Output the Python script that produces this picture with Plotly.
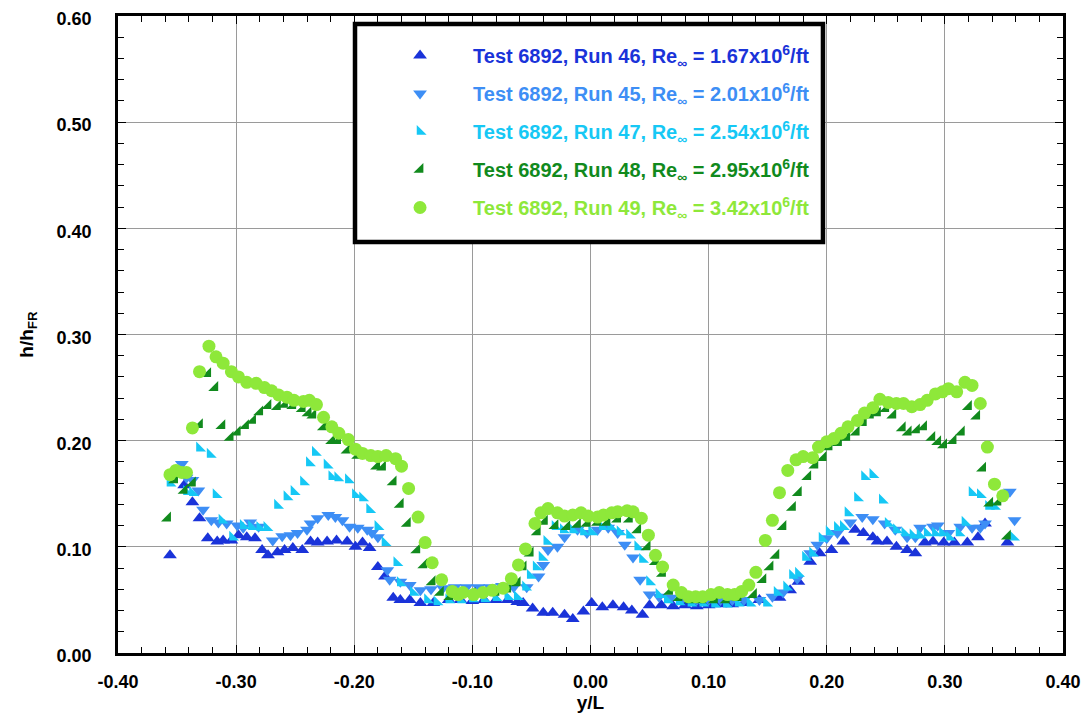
import plotly.graph_objects as go

# ---------------- data ----------------
run46_x = [-0.356, -0.344, -0.337, -0.331, -0.324, -0.316, -0.311, -0.304, -0.298, -0.291,
           -0.284, -0.278, -0.273, -0.265, -0.259, -0.252, -0.244, -0.237, -0.231, -0.223,
           -0.215, -0.206, -0.199, -0.193, -0.187, -0.180, -0.174, -0.167, -0.161, -0.153,
           -0.144, -0.133, -0.120, -0.110, -0.100, -0.090, -0.080, -0.070, -0.062, -0.057,
           -0.049, -0.040, -0.032, -0.022, -0.015, -0.006, 0.001, 0.010, 0.019, 0.028,
           0.035, 0.044, 0.050, 0.060, 0.070, 0.080, 0.090, 0.100, 0.110, 0.120,
           0.130, 0.143, 0.160, 0.169, 0.176, 0.186, 0.194, 0.204, 0.214, 0.224,
           0.231, 0.239, 0.243, 0.251, 0.259, 0.268, 0.275, 0.283, 0.290, 0.299,
           0.308, 0.319, 0.328, 0.334, 0.353]
run46_y = [0.092, 0.158, 0.142, 0.127, 0.108, 0.105, 0.106, 0.106, 0.111, 0.109,
           0.108, 0.097, 0.092, 0.095, 0.097, 0.099, 0.097, 0.105, 0.104, 0.105,
           0.106, 0.105, 0.100, 0.104, 0.099, 0.081, 0.072, 0.052, 0.050, 0.050,
           0.047, 0.047, 0.050, 0.050, 0.049, 0.050, 0.050, 0.050, 0.048, 0.047,
           0.042, 0.038, 0.038, 0.036, 0.032, 0.039, 0.047, 0.043, 0.045, 0.043,
           0.040, 0.036, 0.045, 0.045, 0.044, 0.045, 0.044, 0.045, 0.046, 0.046,
           0.047, 0.050, 0.052, 0.059, 0.067, 0.086, 0.094, 0.097, 0.105, 0.116,
           0.113, 0.109, 0.105, 0.105, 0.100, 0.097, 0.094, 0.104, 0.105, 0.104,
           0.104, 0.104, 0.109, 0.122, 0.104]

run45_x = [-0.346, -0.342, -0.337, -0.332, -0.328, -0.321, -0.315, -0.308, -0.299, -0.294,
           -0.288, -0.281, -0.269, -0.261, -0.254, -0.248, -0.240, -0.237, -0.231, -0.222,
           -0.216, -0.210, -0.204, -0.197, -0.189, -0.185, -0.180, -0.172, -0.170, -0.161,
           -0.153, -0.144, -0.135, -0.125, -0.115, -0.105, -0.095, -0.085, -0.075, -0.065,
           -0.054, -0.044, -0.040, -0.036, -0.028, -0.022, -0.011, -0.003, 0.006, 0.015,
           0.023, 0.029, 0.036, 0.042, 0.050, 0.058, 0.068, 0.078, 0.090, 0.100,
           0.110, 0.120, 0.130, 0.143, 0.154, 0.163, 0.175, 0.186, 0.192, 0.200,
           0.209, 0.220, 0.230, 0.239, 0.249, 0.258, 0.268, 0.275, 0.279, 0.290,
           0.294, 0.303, 0.313, 0.323, 0.330, 0.334, 0.355, 0.359]
run45_y = [0.178, 0.165, 0.163, 0.153, 0.135, 0.125, 0.123, 0.122, 0.120, 0.118,
           0.123, 0.119, 0.106, 0.110, 0.111, 0.113, 0.116, 0.122, 0.127, 0.130,
           0.128, 0.125, 0.119, 0.118, 0.116, 0.113, 0.109, 0.078, 0.069, 0.067,
           0.064, 0.059, 0.060, 0.061, 0.062, 0.062, 0.062, 0.062, 0.063, 0.062,
           0.062, 0.072, 0.083, 0.097, 0.100, 0.109, 0.116, 0.113, 0.116, 0.118,
           0.113, 0.102, 0.090, 0.069, 0.055, 0.053, 0.052, 0.051, 0.050, 0.050,
           0.050, 0.050, 0.050, 0.050, 0.053, 0.057, 0.070, 0.094, 0.102, 0.108,
           0.113, 0.123, 0.128, 0.126, 0.122, 0.116, 0.109, 0.109, 0.118, 0.119,
           0.120, 0.113, 0.119, 0.118, 0.118, 0.122, 0.152, 0.125]

run47_x = [-0.356, -0.342, -0.337, -0.331, -0.322, -0.317, -0.312, -0.303, -0.294, -0.287,
           -0.280, -0.274, -0.265, -0.257, -0.251, -0.243, -0.238, -0.233, -0.223, -0.219,
           -0.214, -0.205, -0.199, -0.193, -0.187, -0.180, -0.174, -0.164, -0.161, -0.150,
           -0.138, -0.130, -0.120, -0.110, -0.100, -0.090, -0.080, -0.070, -0.062, -0.055,
           -0.051, -0.046, -0.041, -0.037, -0.030, -0.023, -0.015, -0.006, 0.001, 0.010,
           0.017, 0.025, 0.033, 0.040, 0.044, 0.050, 0.058, 0.065, 0.075, 0.085,
           0.095, 0.105, 0.115, 0.125, 0.135, 0.149, 0.158, 0.166, 0.171, 0.176,
           0.182, 0.188, 0.196, 0.202, 0.209, 0.214, 0.218, 0.226, 0.232, 0.239,
           0.247, 0.252, 0.259, 0.266, 0.273, 0.279, 0.285, 0.292, 0.298, 0.304,
           0.312, 0.317, 0.323, 0.330, 0.337, 0.342, 0.358]
run47_y = [0.160, 0.152, 0.151, 0.193, 0.187, 0.149, 0.125, 0.109, 0.120, 0.119,
           0.118, 0.118, 0.139, 0.147, 0.152, 0.161, 0.179, 0.189, 0.177, 0.166,
           0.165, 0.163, 0.149, 0.146, 0.135, 0.119, 0.104, 0.085, 0.066, 0.057,
           0.050, 0.048, 0.050, 0.050, 0.051, 0.051, 0.052, 0.053, 0.053, 0.062,
           0.073, 0.081, 0.090, 0.105, 0.119, 0.116, 0.116, 0.114, 0.114, 0.119,
           0.119, 0.114, 0.111, 0.100, 0.088, 0.067, 0.055, 0.050, 0.048, 0.047,
           0.047, 0.046, 0.046, 0.047, 0.047, 0.047, 0.057, 0.062, 0.073, 0.075,
           0.090, 0.094, 0.108, 0.114, 0.118, 0.119, 0.132, 0.146, 0.166, 0.168,
           0.144, 0.122, 0.116, 0.113, 0.111, 0.111, 0.113, 0.113, 0.113, 0.109,
           0.113, 0.123, 0.151, 0.149, 0.138, 0.138, 0.109]

run48_x = [-0.358, -0.352, -0.344, -0.337, -0.331, -0.324, -0.318, -0.312, -0.305, -0.299,
           -0.292, -0.286, -0.280, -0.273, -0.265, -0.259, -0.252, -0.244, -0.239, -0.235,
           -0.226, -0.219, -0.214, -0.206, -0.197, -0.181, -0.176, -0.167, -0.161, -0.155,
           -0.147, -0.141, -0.134, -0.127, -0.119, -0.110, -0.100, -0.090, -0.080, -0.070,
           -0.062, -0.057, -0.051, -0.045, -0.039, -0.030, -0.020, -0.011, -0.003, 0.006,
           0.014, 0.023, 0.033, 0.040, 0.048, 0.055, 0.061, 0.067, 0.075, 0.085,
           0.095, 0.105, 0.115, 0.125, 0.138, 0.146, 0.152, 0.157, 0.163, 0.171,
           0.176, 0.184, 0.190, 0.197, 0.202, 0.210, 0.217, 0.225, 0.231, 0.237,
           0.243, 0.250, 0.256, 0.264, 0.269, 0.276, 0.282, 0.289, 0.294, 0.299,
           0.307, 0.314, 0.320, 0.327, 0.332, 0.338, 0.345, 0.353]
run48_y = [0.127, 0.163, 0.153, 0.160, 0.215, 0.263, 0.250, 0.214, 0.203, 0.208,
           0.214, 0.219, 0.227, 0.233, 0.232, 0.234, 0.233, 0.230, 0.226, 0.224,
           0.213, 0.200, 0.200, 0.191, 0.186, 0.176, 0.175, 0.161, 0.140, 0.122,
           0.097, 0.083, 0.067, 0.057, 0.053, 0.055, 0.056, 0.056, 0.057, 0.060,
           0.066, 0.081, 0.094, 0.114, 0.124, 0.120, 0.119, 0.121, 0.122, 0.123,
           0.123, 0.126, 0.126, 0.116, 0.100, 0.086, 0.075, 0.058, 0.052, 0.050,
           0.050, 0.050, 0.050, 0.052, 0.055, 0.069, 0.081, 0.092, 0.119, 0.137,
           0.151, 0.166, 0.177, 0.184, 0.194, 0.198, 0.203, 0.208, 0.217, 0.224,
           0.226, 0.230, 0.224, 0.212, 0.208, 0.210, 0.213, 0.203, 0.199, 0.196,
           0.200, 0.208, 0.232, 0.223, 0.174, 0.141, 0.142, 0.110]

run49_x = [-0.356, -0.351, -0.346, -0.342, -0.337, -0.331, -0.323, -0.317, -0.311, -0.304,
           -0.298, -0.291, -0.283, -0.276, -0.270, -0.264, -0.257, -0.251, -0.243, -0.238,
           -0.232, -0.226, -0.219, -0.213, -0.205, -0.199, -0.193, -0.186, -0.180, -0.173,
           -0.165, -0.160, -0.154, -0.146, -0.140, -0.134, -0.126, -0.117, -0.112, -0.108,
           -0.099, -0.091, -0.083, -0.074, -0.067, -0.061, -0.055, -0.047, -0.042, -0.036,
           -0.028, -0.022, -0.015, -0.008, -0.002, 0.006, 0.011, 0.018, 0.023, 0.031,
           0.036, 0.043, 0.049, 0.055, 0.061, 0.070, 0.077, 0.083, 0.089, 0.095,
           0.102, 0.109, 0.116, 0.122, 0.128, 0.134, 0.140, 0.148, 0.154, 0.160,
           0.167, 0.174, 0.180, 0.188, 0.193, 0.200, 0.206, 0.212, 0.218, 0.226,
           0.232, 0.239, 0.245, 0.252, 0.259, 0.265, 0.272, 0.279, 0.285, 0.292,
           0.298, 0.303, 0.310, 0.317, 0.323, 0.330, 0.336, 0.342, 0.349]
run49_y = [0.168, 0.172, 0.170, 0.170, 0.212, 0.265, 0.289, 0.279, 0.273, 0.265,
           0.260, 0.255, 0.254, 0.250, 0.247, 0.243, 0.241, 0.238, 0.237, 0.238,
           0.234, 0.222, 0.213, 0.207, 0.201, 0.192, 0.188, 0.186, 0.185, 0.186,
           0.183, 0.176, 0.155, 0.128, 0.104, 0.085, 0.069, 0.058, 0.055, 0.057,
           0.055, 0.057, 0.059, 0.061, 0.070, 0.083, 0.098, 0.122, 0.132, 0.136,
           0.132, 0.129, 0.130, 0.132, 0.129, 0.128, 0.130, 0.132, 0.133, 0.134,
           0.133, 0.127, 0.111, 0.092, 0.081, 0.064, 0.057, 0.053, 0.053, 0.053,
           0.055, 0.057, 0.055, 0.055, 0.058, 0.064, 0.076, 0.106, 0.125, 0.151,
           0.172, 0.182, 0.185, 0.184, 0.194, 0.199, 0.202, 0.207, 0.213, 0.219,
           0.226, 0.231, 0.239, 0.236, 0.235, 0.235, 0.232, 0.234, 0.238, 0.244,
           0.246, 0.249, 0.246, 0.255, 0.252, 0.235, 0.194, 0.159, 0.148]

series_names = ["Test 6892, Run 46, Re<sub>∞</sub> = 1.67x10<sup>6</sup>/ft",
                "Test 6892, Run 45, Re<sub>∞</sub> = 2.01x10<sup>6</sup>/ft",
                "Test 6892, Run 47, Re<sub>∞</sub> = 2.54x10<sup>6</sup>/ft",
                "Test 6892, Run 48, Re<sub>∞</sub> = 2.95x10<sup>6</sup>/ft",
                "Test 6892, Run 49, Re<sub>∞</sub> = 3.42x10<sup>6</sup>/ft"]
x_ticks = [-0.40, -0.30, -0.20, -0.10, 0.00, 0.10, 0.20, 0.30, 0.40]
y_ticks = [0.00, 0.10, 0.20, 0.30, 0.40, 0.50, 0.60]

# ---------------- styling ----------------
colors = ["#1a33d9", "#3d8ef5", "#16c8f5", "#118a1d", "#8ee83a"]
symbols = ["triangle-up", "triangle-down", "triangle-sw", "triangle-se", "circle"]
sizes = [12, 12, 11, 11, 13]
FONT = "Liberation Sans, Arial, Helvetica, sans-serif"

data = [(run46_x, run46_y), (run45_x, run45_y), (run47_x, run47_y),
        (run48_x, run48_y), (run49_x, run49_y)]

fig = go.Figure()
for i, (xs, ys) in enumerate(data):
    fig.add_trace(go.Scatter(
        x=xs, y=ys, mode="markers",
        name=f'<span style="color:{colors[i]}"><b>{series_names[i]}</b></span>',
        legendgroup=f"g{i}",
        marker=dict(symbol=symbols[i], size=sizes[i], color=colors[i], line=dict(width=0)),
    ))

axis_common = dict(
    showline=True, linecolor="black", linewidth=2.5, mirror="ticks",
    ticks="inside", ticklen=8, tickcolor="black", tickwidth=1.2,
    showgrid=True, gridcolor="#9a9a9a", gridwidth=1,
    zeroline=False, automargin=False, ticklabeloverflow="allow",
    tickfont=dict(family=FONT, size=18, color="black", weight="bold"),
    minor=dict(ticks="inside", ticklen=6, tickcolor="black", tickwidth=1, dtick=0.02, showgrid=False),
)

# the page body adds an 8px offset, so the figure is 8px smaller than the window
fig.update_layout(
    width=1081, height=711,
    margin=dict(l=110, r=26, t=8, b=66, autoexpand=False),
    paper_bgcolor="white", plot_bgcolor="white",
    showlegend=True,
    legend=dict(
        x=0.2519, y=0.9686, xanchor="left", yanchor="top",
        bgcolor="rgba(0,0,0,0)", borderwidth=0,
        font=dict(family=FONT, size=20),
        itemwidth=96, indentation=11, tracegroupgap=9,
    ),
    font=dict(family=FONT, size=18),
    shapes=[dict(type="rect", xref="paper", yref="paper",
                 x0=0.2508, x1=0.7460, y0=0.6452, y1=0.9874,
                 line=dict(color="black", width=4.5), fillcolor="white", layer="above")],
)
fig.update_xaxes(
    range=[-0.40, 0.40], tickvals=x_ticks, ticktext=[f"{v:.2f}" for v in x_ticks],
    title=dict(text="<b>y/L</b>", font=dict(family=FONT, size=19, color="black"), standoff=4),
    ticklabelstandoff=11,
    **axis_common,
)
fig.update_yaxes(
    range=[0.0, 0.60], tickvals=y_ticks, ticktext=[f"{v:.2f}" for v in y_ticks],
    title=dict(text="<b>h/h<sub>FR</sub></b>", font=dict(family=FONT, size=19, color="black"), standoff=18),
    ticklabelstandoff=20, ticklabelshift=3,
    **axis_common,
)

fig.write_html("out.html")
